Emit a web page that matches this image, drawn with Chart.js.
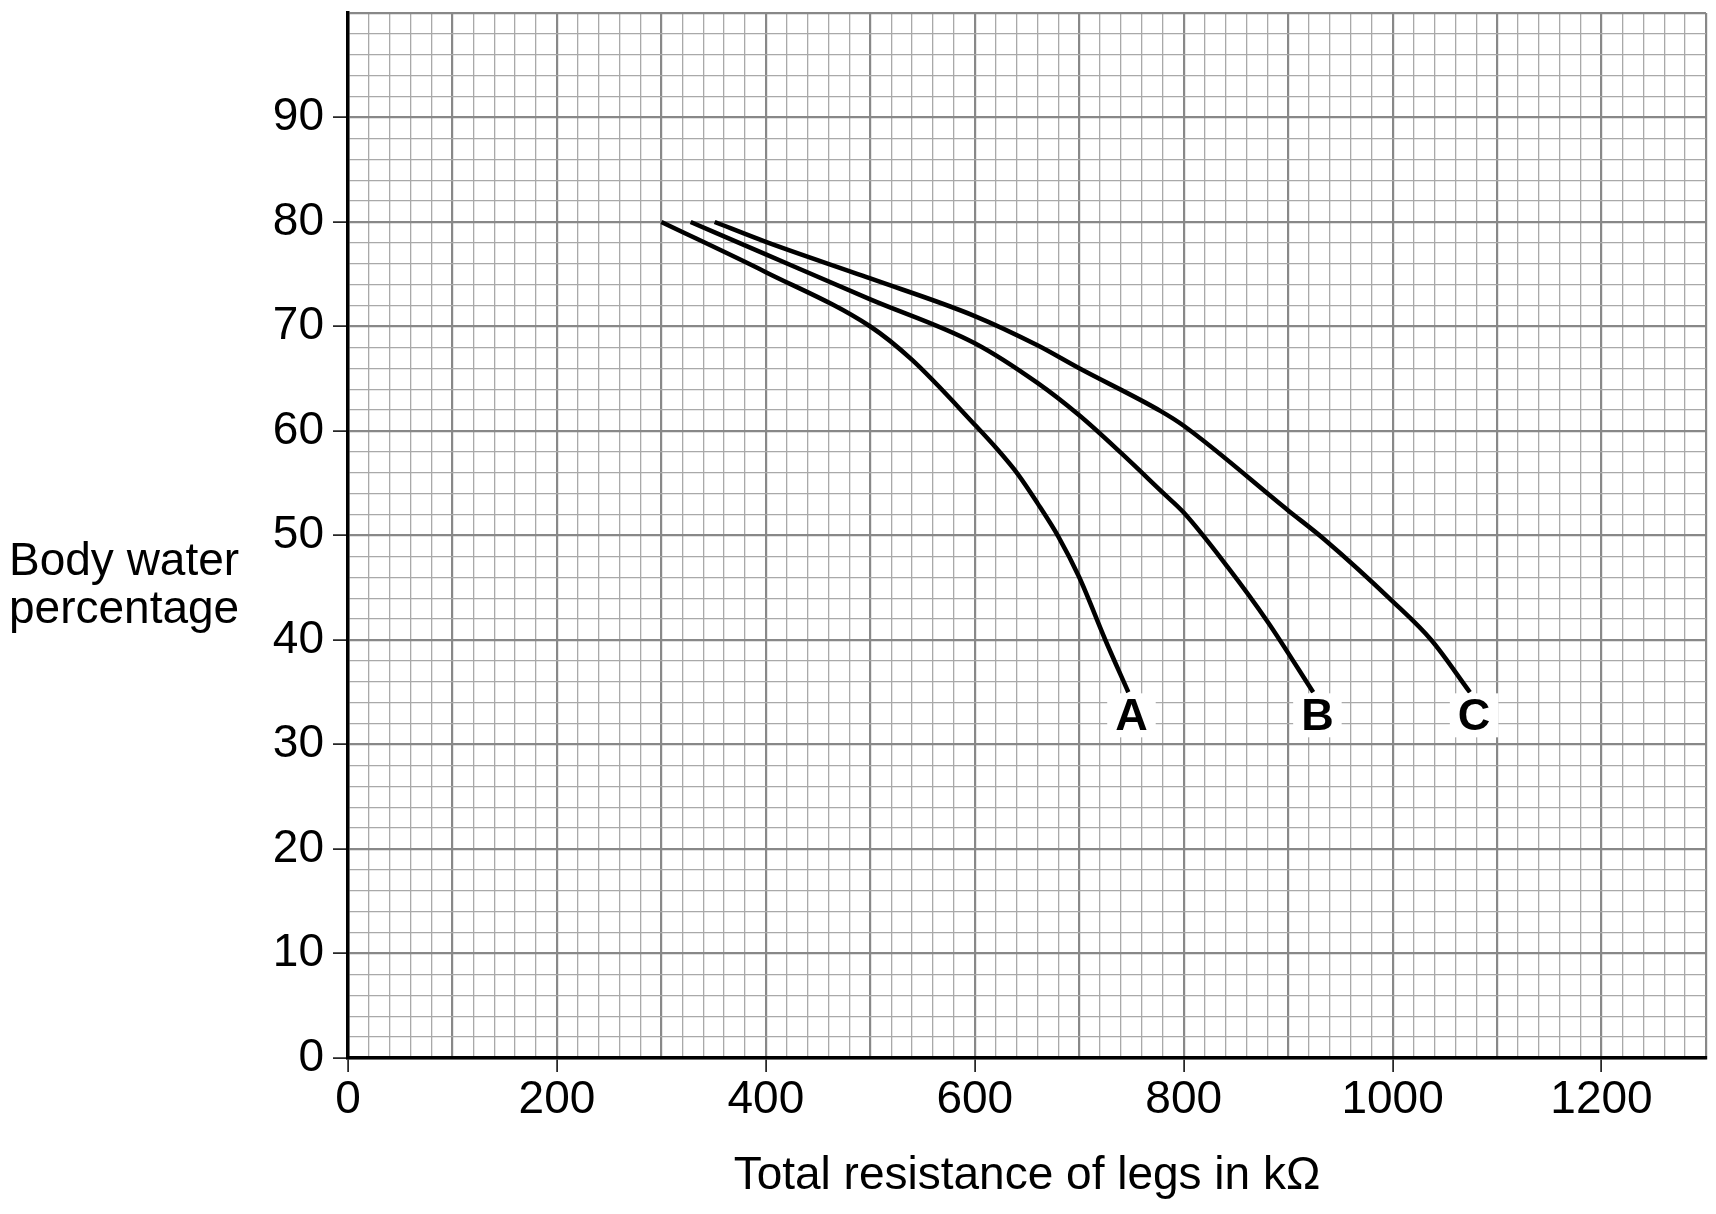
<!DOCTYPE html>
<html>
<head>
<meta charset="utf-8">
<title>Body water percentage</title>
<script src="https://cdn.jsdelivr.net/npm/chart.js@4.4.1/dist/chart.umd.min.js"></script>
<style>
  html, body { margin: 0; padding: 0; background: #fff; }
  #wrap { width: 1716px; height: 1214px; position: relative; }
</style>
</head>
<body>
<div id="wrap"><canvas id="myChart"></canvas></div>
<script>
// curves (x in kOhm, y in %)
const curveAx = [300, 400, 500, 540, 600, 622, 641, 660, 680, 700, 725, 747];
const curveAy = [80, 75.2, 70.0, 66.8, 60.6, 58.2, 55.9, 53.1, 49.9, 46.0, 40.0, 35.0];

const curveBx = [328, 400, 500, 600, 660, 700, 740, 780, 800, 842, 880, 924];
const curveBy = [80, 76.9, 72.6, 68.4, 64.6, 61.5, 57.9, 54.1, 52.2, 47.0, 41.8, 35.0];

const curveCx = [351, 400, 500, 600, 660, 700, 778, 800, 900, 935, 1000, 1037, 1074];
const curveCy = [80, 78.1, 74.6, 71.0, 68.2, 66.0, 61.9, 60.5, 52.4, 49.6, 43.7, 40.0, 35.0];

const curveLabels = ["A", "B", "C"];
const curveLabelX = [750, 928, 1078];
const curveLabelY = 32.6;

const xTickLabels = [0, 200, 400, 600, 800, 1000, 1200];
const yTickLabels = [0, 10, 20, 30, 40, 50, 60, 70, 80, 90];

const xTitle = "Total resistance of legs in kΩ";
const yTitleLines = ["Body water", "percentage"];

const FONT = "'Liberation Sans', Arial, Helvetica, sans-serif";
const MAJOR = "#888888";
const MINOR = "#a9a9a9";

Chart.defaults.font.family = FONT;
Chart.defaults.color = "#000";

const toPoints = (xs, ys) => xs.map((x, i) => ({ x, y: ys[i] }));

const curveStyle = {
  borderColor: "#000",
  borderWidth: 4.5,
  pointRadius: 0,
  fill: false,
  cubicInterpolationMode: "monotone",
  borderCapStyle: "butt",
};

// letters A, B, C on a white patch under each curve end
const curveLabelPlugin = {
  id: "curveLabels",
  afterDatasetsDraw(chart) {
    const { ctx, scales: { x, y } } = chart;
    ctx.save();
    ctx.font = `bold 45px ${FONT}`;
    ctx.textAlign = "center";
    ctx.textBaseline = "middle";
    curveLabels.forEach((name, i) => {
      const px = x.getPixelForValue(curveLabelX[i]);
      const py = y.getPixelForValue(curveLabelY);
      const w = ctx.measureText(name).width + 16;
      ctx.fillStyle = "#fff";
      ctx.fillRect(px - w / 2, py - 24, w, 44);
      ctx.fillStyle = "#000";
      ctx.fillText(name, px, py);
    });
    ctx.restore();
  },
};

// horizontal y axis title, left of the tick labels
const yTitlePlugin = {
  id: "yTitle",
  afterDraw(chart) {
    const { ctx, scales: { y } } = chart;
    const base = y.getPixelForValue(46.2);
    ctx.save();
    ctx.font = `46px ${FONT}`;
    ctx.fillStyle = "#000";
    ctx.textAlign = "left";
    ctx.textBaseline = "alphabetic";
    yTitleLines.forEach((line, i) => ctx.fillText(line, 9, base + i * 48));
    ctx.restore();
  },
};

const isMajor = (c, step) => c.tick && Math.round(c.tick.value) % step === 0;

const ctx = document.getElementById("myChart").getContext("2d");
const myChart = new Chart(ctx, {
  type: "line",
  data: {
    datasets: [
      { label: "A", data: toPoints(curveAx, curveAy), ...curveStyle },
      { label: "B", data: toPoints(curveBx, curveBy), ...curveStyle },
      { label: "C", data: toPoints(curveCx, curveCy), ...curveStyle },
    ],
  },
  options: {
    responsive: true,
    maintainAspectRatio: false,
    animation: false,
    events: [],
    layout: { padding: { top: 13, right: 10, bottom: 0, left: 0 } },
    plugins: {
      legend: { display: false },
      tooltip: { enabled: false },
    },
    scales: {
      x: {
        type: "linear",
        min: 0,
        max: 1300,
        afterFit: (s) => {
          s.height = 156;
          s.paddingLeft = 0;
          s.paddingRight = 0;
        },
        ticks: {
          stepSize: 20,
          autoSkip: false,
          maxRotation: 0,
          padding: 1,
          color: "#000",
          font: { size: 46 },
          callback: (v) => (xTickLabels.includes(Math.round(v)) ? String(Math.round(v)) : ""),
        },
        grid: {
          color: (c) => (isMajor(c, 100) ? MAJOR : MINOR),
          lineWidth: (c) => (isMajor(c, 100) ? 2.2 : 1.3),
          tickLength: 14,
          tickWidth: 1.5,
          tickColor: (c) => (c.tick && xTickLabels.includes(Math.round(c.tick.value)) ? "#000" : "rgba(0,0,0,0)"),
        },
        border: { color: "#000", width: 3.5 },
        title: {
          display: true,
          text: xTitle,
          color: "#000",
          font: { size: 46 },
          padding: { top: 0, bottom: 10 },
        },
      },
      y: {
        min: 0,
        max: 100,
        afterFit: (s) => {
          s.width = 348;
          s.paddingTop = 0;
          s.paddingBottom = 0;
        },
        ticks: {
          stepSize: 2,
          autoSkip: false,
          padding: 9,
          color: "#000",
          font: { size: 46 },
          callback: (v) => (yTickLabels.includes(Math.round(v)) ? String(Math.round(v)) : ""),
        },
        grid: {
          color: (c) => (isMajor(c, 10) ? MAJOR : MINOR),
          lineWidth: (c) => (isMajor(c, 10) ? 2.2 : 1.3),
          tickLength: 15,
          tickWidth: 1.5,
          tickColor: (c) => (c.tick && yTickLabels.includes(Math.round(c.tick.value)) ? "#000" : "rgba(0,0,0,0)"),
        },
        border: { color: "#000", width: 3.5 },
      },
    },
  },
  plugins: [curveLabelPlugin, yTitlePlugin],
});
</script>
</body>
</html>
